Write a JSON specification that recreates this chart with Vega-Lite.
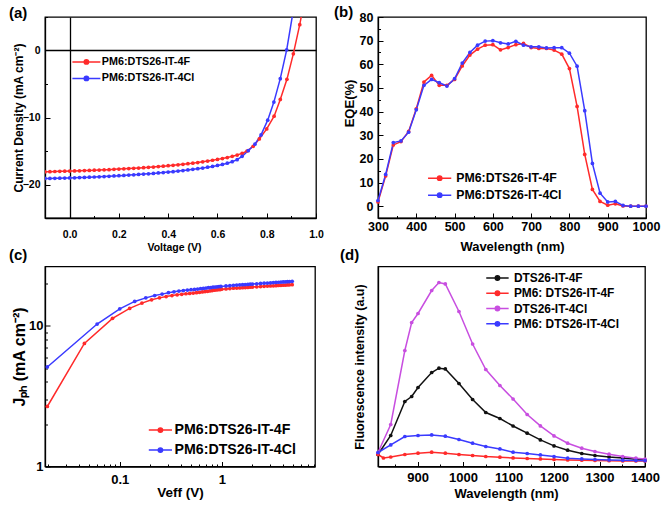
{
  "$schema": "https://vega.github.io/schema/vega-lite/v6.json",
  "background": "white",
  "padding": {"left": 8, "top": 3, "right": 0, "bottom": 0},
  "bounds": "flush",
  "columns": 2,
  "spacing": {"column": 62, "row": 48.5},
  "resolve": {"scale": {"color": "independent", "x": "independent", "y": "independent"}, "legend": {"color": "independent"}, "axis": {"x": "independent", "y": "independent"}},
  "config": {
    "view": {"stroke": "black", "strokeWidth": 1.3},
    "font": "Liberation Sans, sans-serif",
    "axis": {"domainColor": "black", "domainWidth": 1.3, "tickColor": "black", "tickWidth": 1, "labelColor": "black", "labelFontWeight": "bold", "titleColor": "black", "titleFontWeight": "bold", "grid": false, "labelFont": "Liberation Sans, sans-serif", "titleFont": "Liberation Sans, sans-serif", "labelFlush": false, "labelOverlap": false, "titleBaseline": "middle", "titleAlign": "center"},
    "legend": {"orient": "none", "title": null, "padding": 0, "labelColor": "black", "labelFontWeight": "bold", "labelFont": "Liberation Sans, sans-serif", "symbolSize": 64, "symbolStrokeWidth": 1.5, "labelOffset": 10},
    "title": {"anchor": "start", "frame": "group", "font": "Liberation Sans, sans-serif", "fontWeight": "bold", "fontSize": 15, "color": "black", "offset": 0}
  },
  "datasets": {
    "jv": [
      {"s": "PM6:DTS26-IT-4F", "v": -0.1, "j": -18.1}, {"s": "PM6:DTS26-IT-4F", "v": -0.08, "j": -18.08}, {"s": "PM6:DTS26-IT-4F", "v": -0.06, "j": -18.06}, {"s": "PM6:DTS26-IT-4F", "v": -0.04, "j": -18.04}, {"s": "PM6:DTS26-IT-4F", "v": -0.02, "j": -18.02},
      {"s": "PM6:DTS26-IT-4F", "v": 0, "j": -18.0}, {"s": "PM6:DTS26-IT-4F", "v": 0.02, "j": -17.97}, {"s": "PM6:DTS26-IT-4F", "v": 0.04, "j": -17.95}, {"s": "PM6:DTS26-IT-4F", "v": 0.06, "j": -17.92}, {"s": "PM6:DTS26-IT-4F", "v": 0.08, "j": -17.9},
      {"s": "PM6:DTS26-IT-4F", "v": 0.1, "j": -17.87}, {"s": "PM6:DTS26-IT-4F", "v": 0.12, "j": -17.84}, {"s": "PM6:DTS26-IT-4F", "v": 0.14, "j": -17.81}, {"s": "PM6:DTS26-IT-4F", "v": 0.16, "j": -17.78}, {"s": "PM6:DTS26-IT-4F", "v": 0.18, "j": -17.74},
      {"s": "PM6:DTS26-IT-4F", "v": 0.2, "j": -17.7}, {"s": "PM6:DTS26-IT-4F", "v": 0.22, "j": -17.66}, {"s": "PM6:DTS26-IT-4F", "v": 0.24, "j": -17.62}, {"s": "PM6:DTS26-IT-4F", "v": 0.26, "j": -17.58}, {"s": "PM6:DTS26-IT-4F", "v": 0.28, "j": -17.54},
      {"s": "PM6:DTS26-IT-4F", "v": 0.3, "j": -17.49}, {"s": "PM6:DTS26-IT-4F", "v": 0.32, "j": -17.44}, {"s": "PM6:DTS26-IT-4F", "v": 0.34, "j": -17.39}, {"s": "PM6:DTS26-IT-4F", "v": 0.36, "j": -17.33}, {"s": "PM6:DTS26-IT-4F", "v": 0.38, "j": -17.27},
      {"s": "PM6:DTS26-IT-4F", "v": 0.4, "j": -17.2}, {"s": "PM6:DTS26-IT-4F", "v": 0.42, "j": -17.13}, {"s": "PM6:DTS26-IT-4F", "v": 0.44, "j": -17.06}, {"s": "PM6:DTS26-IT-4F", "v": 0.46, "j": -16.98}, {"s": "PM6:DTS26-IT-4F", "v": 0.48, "j": -16.9},
      {"s": "PM6:DTS26-IT-4F", "v": 0.5, "j": -16.81}, {"s": "PM6:DTS26-IT-4F", "v": 0.52, "j": -16.72}, {"s": "PM6:DTS26-IT-4F", "v": 0.54, "j": -16.62}, {"s": "PM6:DTS26-IT-4F", "v": 0.56, "j": -16.5}, {"s": "PM6:DTS26-IT-4F", "v": 0.58, "j": -16.38},
      {"s": "PM6:DTS26-IT-4F", "v": 0.6, "j": -16.25}, {"s": "PM6:DTS26-IT-4F", "v": 0.62, "j": -16.12}, {"s": "PM6:DTS26-IT-4F", "v": 0.64, "j": -15.98}, {"s": "PM6:DTS26-IT-4F", "v": 0.66, "j": -15.8}, {"s": "PM6:DTS26-IT-4F", "v": 0.68, "j": -15.6},
      {"s": "PM6:DTS26-IT-4F", "v": 0.7, "j": -15.35}, {"s": "PM6:DTS26-IT-4F", "v": 0.72, "j": -15.0}, {"s": "PM6:DTS26-IT-4F", "v": 0.745, "j": -14.3}, {"s": "PM6:DTS26-IT-4F", "v": 0.77, "j": -13.2}, {"s": "PM6:DTS26-IT-4F", "v": 0.8, "j": -11.7},
      {"s": "PM6:DTS26-IT-4F", "v": 0.83, "j": -9.8}, {"s": "PM6:DTS26-IT-4F", "v": 0.855, "j": -7.3}, {"s": "PM6:DTS26-IT-4F", "v": 0.882, "j": -4.3}, {"s": "PM6:DTS26-IT-4F", "v": 0.908, "j": -0.5}, {"s": "PM6:DTS26-IT-4F", "v": 0.934, "j": 3.85}, {"s": "PM6:DTS26-IT-4F", "v": 0.946, "j": 6.2},
      {"s": "PM6:DTS26-IT-4Cl", "v": -0.1, "j": -19.1}, {"s": "PM6:DTS26-IT-4Cl", "v": -0.08, "j": -19.09}, {"s": "PM6:DTS26-IT-4Cl", "v": -0.06, "j": -19.08}, {"s": "PM6:DTS26-IT-4Cl", "v": -0.04, "j": -19.06}, {"s": "PM6:DTS26-IT-4Cl", "v": -0.02, "j": -19.04},
      {"s": "PM6:DTS26-IT-4Cl", "v": 0, "j": -19.02}, {"s": "PM6:DTS26-IT-4Cl", "v": 0.02, "j": -19.0}, {"s": "PM6:DTS26-IT-4Cl", "v": 0.04, "j": -18.97}, {"s": "PM6:DTS26-IT-4Cl", "v": 0.06, "j": -18.94}, {"s": "PM6:DTS26-IT-4Cl", "v": 0.08, "j": -18.91},
      {"s": "PM6:DTS26-IT-4Cl", "v": 0.1, "j": -18.88}, {"s": "PM6:DTS26-IT-4Cl", "v": 0.12, "j": -18.85}, {"s": "PM6:DTS26-IT-4Cl", "v": 0.14, "j": -18.81}, {"s": "PM6:DTS26-IT-4Cl", "v": 0.16, "j": -18.77}, {"s": "PM6:DTS26-IT-4Cl", "v": 0.18, "j": -18.73},
      {"s": "PM6:DTS26-IT-4Cl", "v": 0.2, "j": -18.69}, {"s": "PM6:DTS26-IT-4Cl", "v": 0.22, "j": -18.65}, {"s": "PM6:DTS26-IT-4Cl", "v": 0.24, "j": -18.6}, {"s": "PM6:DTS26-IT-4Cl", "v": 0.26, "j": -18.55}, {"s": "PM6:DTS26-IT-4Cl", "v": 0.28, "j": -18.5},
      {"s": "PM6:DTS26-IT-4Cl", "v": 0.3, "j": -18.45}, {"s": "PM6:DTS26-IT-4Cl", "v": 0.32, "j": -18.4}, {"s": "PM6:DTS26-IT-4Cl", "v": 0.34, "j": -18.34}, {"s": "PM6:DTS26-IT-4Cl", "v": 0.36, "j": -18.28}, {"s": "PM6:DTS26-IT-4Cl", "v": 0.38, "j": -18.22},
      {"s": "PM6:DTS26-IT-4Cl", "v": 0.4, "j": -18.15}, {"s": "PM6:DTS26-IT-4Cl", "v": 0.42, "j": -18.08}, {"s": "PM6:DTS26-IT-4Cl", "v": 0.44, "j": -18.0}, {"s": "PM6:DTS26-IT-4Cl", "v": 0.46, "j": -17.92}, {"s": "PM6:DTS26-IT-4Cl", "v": 0.48, "j": -17.83},
      {"s": "PM6:DTS26-IT-4Cl", "v": 0.5, "j": -17.74}, {"s": "PM6:DTS26-IT-4Cl", "v": 0.52, "j": -17.64}, {"s": "PM6:DTS26-IT-4Cl", "v": 0.54, "j": -17.54}, {"s": "PM6:DTS26-IT-4Cl", "v": 0.56, "j": -17.42}, {"s": "PM6:DTS26-IT-4Cl", "v": 0.58, "j": -17.3},
      {"s": "PM6:DTS26-IT-4Cl", "v": 0.6, "j": -17.16}, {"s": "PM6:DTS26-IT-4Cl", "v": 0.62, "j": -17.0}, {"s": "PM6:DTS26-IT-4Cl", "v": 0.64, "j": -16.82}, {"s": "PM6:DTS26-IT-4Cl", "v": 0.66, "j": -16.6}, {"s": "PM6:DTS26-IT-4Cl", "v": 0.68, "j": -16.3},
      {"s": "PM6:DTS26-IT-4Cl", "v": 0.7, "j": -15.8}, {"s": "PM6:DTS26-IT-4Cl", "v": 0.725, "j": -14.96}, {"s": "PM6:DTS26-IT-4Cl", "v": 0.752, "j": -13.98}, {"s": "PM6:DTS26-IT-4Cl", "v": 0.777, "j": -12.6}, {"s": "PM6:DTS26-IT-4Cl", "v": 0.804, "j": -10.4},
      {"s": "PM6:DTS26-IT-4Cl", "v": 0.829, "j": -7.7}, {"s": "PM6:DTS26-IT-4Cl", "v": 0.855, "j": -4.2}, {"s": "PM6:DTS26-IT-4Cl", "v": 0.881, "j": 0.1}, {"s": "PM6:DTS26-IT-4Cl", "v": 0.907, "j": 5.8}
    ],
    "eqe": [
      {"s": "PM6:DTS26-IT-4F", "w": 300, "e": 1.8}, {"s": "PM6:DTS26-IT-4F", "w": 320, "e": 12.8}, {"s": "PM6:DTS26-IT-4F", "w": 340, "e": 25.9}, {"s": "PM6:DTS26-IT-4F", "w": 360, "e": 27.3}, {"s": "PM6:DTS26-IT-4F", "w": 380, "e": 31.6},
      {"s": "PM6:DTS26-IT-4F", "w": 400, "e": 41.2}, {"s": "PM6:DTS26-IT-4F", "w": 420, "e": 52.5}, {"s": "PM6:DTS26-IT-4F", "w": 440, "e": 55.3}, {"s": "PM6:DTS26-IT-4F", "w": 460, "e": 51.1}, {"s": "PM6:DTS26-IT-4F", "w": 480, "e": 51.1},
      {"s": "PM6:DTS26-IT-4F", "w": 500, "e": 53.6}, {"s": "PM6:DTS26-IT-4F", "w": 520, "e": 59.3}, {"s": "PM6:DTS26-IT-4F", "w": 540, "e": 63.9}, {"s": "PM6:DTS26-IT-4F", "w": 560, "e": 66.4}, {"s": "PM6:DTS26-IT-4F", "w": 580, "e": 68.1},
      {"s": "PM6:DTS26-IT-4F", "w": 600, "e": 68.3}, {"s": "PM6:DTS26-IT-4F", "w": 620, "e": 66.1}, {"s": "PM6:DTS26-IT-4F", "w": 640, "e": 67.1}, {"s": "PM6:DTS26-IT-4F", "w": 660, "e": 68.3}, {"s": "PM6:DTS26-IT-4F", "w": 680, "e": 68.8},
      {"s": "PM6:DTS26-IT-4F", "w": 700, "e": 67.1}, {"s": "PM6:DTS26-IT-4F", "w": 720, "e": 66.7}, {"s": "PM6:DTS26-IT-4F", "w": 740, "e": 66.7}, {"s": "PM6:DTS26-IT-4F", "w": 760, "e": 66.0}, {"s": "PM6:DTS26-IT-4F", "w": 780, "e": 64.3},
      {"s": "PM6:DTS26-IT-4F", "w": 800, "e": 58.2}, {"s": "PM6:DTS26-IT-4F", "w": 820, "e": 42.2}, {"s": "PM6:DTS26-IT-4F", "w": 840, "e": 21.9}, {"s": "PM6:DTS26-IT-4F", "w": 860, "e": 7.1}, {"s": "PM6:DTS26-IT-4F", "w": 880, "e": 2.0},
      {"s": "PM6:DTS26-IT-4F", "w": 900, "e": 0.4}, {"s": "PM6:DTS26-IT-4F", "w": 920, "e": 1.0}, {"s": "PM6:DTS26-IT-4F", "w": 940, "e": 0.1}, {"s": "PM6:DTS26-IT-4F", "w": 960, "e": 0}, {"s": "PM6:DTS26-IT-4F", "w": 980, "e": 0}, {"s": "PM6:DTS26-IT-4F", "w": 1000, "e": 0},
      {"s": "PM6:DTS26-IT-4Cl", "w": 300, "e": 2.4}, {"s": "PM6:DTS26-IT-4Cl", "w": 320, "e": 13.4}, {"s": "PM6:DTS26-IT-4Cl", "w": 340, "e": 26.9}, {"s": "PM6:DTS26-IT-4Cl", "w": 360, "e": 27.6}, {"s": "PM6:DTS26-IT-4Cl", "w": 380, "e": 31.3},
      {"s": "PM6:DTS26-IT-4Cl", "w": 400, "e": 40.8}, {"s": "PM6:DTS26-IT-4Cl", "w": 420, "e": 51.1}, {"s": "PM6:DTS26-IT-4Cl", "w": 440, "e": 53.6}, {"s": "PM6:DTS26-IT-4Cl", "w": 460, "e": 52.2}, {"s": "PM6:DTS26-IT-4Cl", "w": 480, "e": 50.8},
      {"s": "PM6:DTS26-IT-4Cl", "w": 500, "e": 53.9}, {"s": "PM6:DTS26-IT-4Cl", "w": 520, "e": 60.5}, {"s": "PM6:DTS26-IT-4Cl", "w": 540, "e": 65.0}, {"s": "PM6:DTS26-IT-4Cl", "w": 560, "e": 68.1}, {"s": "PM6:DTS26-IT-4Cl", "w": 580, "e": 69.8},
      {"s": "PM6:DTS26-IT-4Cl", "w": 600, "e": 70.0}, {"s": "PM6:DTS26-IT-4Cl", "w": 620, "e": 69.1}, {"s": "PM6:DTS26-IT-4Cl", "w": 640, "e": 68.6}, {"s": "PM6:DTS26-IT-4Cl", "w": 660, "e": 69.7}, {"s": "PM6:DTS26-IT-4Cl", "w": 680, "e": 68.1},
      {"s": "PM6:DTS26-IT-4Cl", "w": 700, "e": 67.4}, {"s": "PM6:DTS26-IT-4Cl", "w": 720, "e": 67.4}, {"s": "PM6:DTS26-IT-4Cl", "w": 740, "e": 66.9}, {"s": "PM6:DTS26-IT-4Cl", "w": 760, "e": 67.0}, {"s": "PM6:DTS26-IT-4Cl", "w": 780, "e": 67.0},
      {"s": "PM6:DTS26-IT-4Cl", "w": 800, "e": 64.7}, {"s": "PM6:DTS26-IT-4Cl", "w": 820, "e": 59.2}, {"s": "PM6:DTS26-IT-4Cl", "w": 840, "e": 40.4}, {"s": "PM6:DTS26-IT-4Cl", "w": 860, "e": 18.1}, {"s": "PM6:DTS26-IT-4Cl", "w": 880, "e": 5.5},
      {"s": "PM6:DTS26-IT-4Cl", "w": 900, "e": 1.8}, {"s": "PM6:DTS26-IT-4Cl", "w": 920, "e": 2.0}, {"s": "PM6:DTS26-IT-4Cl", "w": 940, "e": 0.3}, {"s": "PM6:DTS26-IT-4Cl", "w": 960, "e": 0}, {"s": "PM6:DTS26-IT-4Cl", "w": 980, "e": 0}, {"s": "PM6:DTS26-IT-4Cl", "w": 1000, "e": 0}
    ],
    "jph": [
      {"s": "PM6:DTS26-IT-4F", "x": 0.0195, "y": 2.67}, {"s": "PM6:DTS26-IT-4F", "x": 0.045, "y": 7.5}, {"s": "PM6:DTS26-IT-4F", "x": 0.085, "y": 11.3}, {"s": "PM6:DTS26-IT-4F", "x": 0.125, "y": 13.3}, {"s": "PM6:DTS26-IT-4F", "x": 0.165, "y": 14.5},
      {"s": "PM6:DTS26-IT-4F", "x": 0.205, "y": 15.3}, {"s": "PM6:DTS26-IT-4F", "x": 0.245, "y": 15.8}, {"s": "PM6:DTS26-IT-4F", "x": 0.285, "y": 16.15}, {"s": "PM6:DTS26-IT-4F", "x": 0.325, "y": 16.4}, {"s": "PM6:DTS26-IT-4F", "x": 0.365, "y": 16.6},
      {"s": "PM6:DTS26-IT-4F", "x": 0.405, "y": 16.75}, {"s": "PM6:DTS26-IT-4F", "x": 0.445, "y": 16.9}, {"s": "PM6:DTS26-IT-4F", "x": 0.485, "y": 17.0}, {"s": "PM6:DTS26-IT-4F", "x": 0.525, "y": 17.1}, {"s": "PM6:DTS26-IT-4F", "x": 0.565, "y": 17.2},
      {"s": "PM6:DTS26-IT-4F", "x": 0.605, "y": 17.3}, {"s": "PM6:DTS26-IT-4F", "x": 0.645, "y": 17.4}, {"s": "PM6:DTS26-IT-4F", "x": 0.685, "y": 17.5}, {"s": "PM6:DTS26-IT-4F", "x": 0.725, "y": 17.6}, {"s": "PM6:DTS26-IT-4F", "x": 0.765, "y": 17.7},
      {"s": "PM6:DTS26-IT-4F", "x": 0.805, "y": 17.8}, {"s": "PM6:DTS26-IT-4F", "x": 0.845, "y": 17.9}, {"s": "PM6:DTS26-IT-4F", "x": 0.885, "y": 18.0}, {"s": "PM6:DTS26-IT-4F", "x": 0.925, "y": 18.05}, {"s": "PM6:DTS26-IT-4F", "x": 0.965, "y": 18.1},
      {"s": "PM6:DTS26-IT-4F", "x": 1.0, "y": 18.2}, {"s": "PM6:DTS26-IT-4F", "x": 1.1, "y": 18.3}, {"s": "PM6:DTS26-IT-4F", "x": 1.2, "y": 18.4}, {"s": "PM6:DTS26-IT-4F", "x": 1.3, "y": 18.5}, {"s": "PM6:DTS26-IT-4F", "x": 1.4, "y": 18.55},
      {"s": "PM6:DTS26-IT-4F", "x": 1.5, "y": 18.6}, {"s": "PM6:DTS26-IT-4F", "x": 1.6, "y": 18.65}, {"s": "PM6:DTS26-IT-4F", "x": 1.7, "y": 18.7}, {"s": "PM6:DTS26-IT-4F", "x": 1.8, "y": 18.75}, {"s": "PM6:DTS26-IT-4F", "x": 1.9, "y": 18.8},
      {"s": "PM6:DTS26-IT-4F", "x": 2.0, "y": 18.85}, {"s": "PM6:DTS26-IT-4F", "x": 2.2, "y": 18.95}, {"s": "PM6:DTS26-IT-4F", "x": 2.4, "y": 19.0}, {"s": "PM6:DTS26-IT-4F", "x": 2.6, "y": 19.1}, {"s": "PM6:DTS26-IT-4F", "x": 2.8, "y": 19.15},
      {"s": "PM6:DTS26-IT-4F", "x": 3.0, "y": 19.2}, {"s": "PM6:DTS26-IT-4F", "x": 3.2, "y": 19.25}, {"s": "PM6:DTS26-IT-4F", "x": 3.4, "y": 19.3}, {"s": "PM6:DTS26-IT-4F", "x": 3.6, "y": 19.35}, {"s": "PM6:DTS26-IT-4F", "x": 3.8, "y": 19.4},
      {"s": "PM6:DTS26-IT-4F", "x": 4.0, "y": 19.45}, {"s": "PM6:DTS26-IT-4F", "x": 4.2, "y": 19.5}, {"s": "PM6:DTS26-IT-4F", "x": 4.4, "y": 19.52}, {"s": "PM6:DTS26-IT-4F", "x": 4.6, "y": 19.55}, {"s": "PM6:DTS26-IT-4F", "x": 4.9, "y": 19.6},
      {"s": "PM6:DTS26-IT-4Cl", "x": 0.0195, "y": 5.1}, {"s": "PM6:DTS26-IT-4Cl", "x": 0.06, "y": 10.3}, {"s": "PM6:DTS26-IT-4Cl", "x": 0.1, "y": 13.2}, {"s": "PM6:DTS26-IT-4Cl", "x": 0.14, "y": 14.9}, {"s": "PM6:DTS26-IT-4Cl", "x": 0.18, "y": 15.8},
      {"s": "PM6:DTS26-IT-4Cl", "x": 0.22, "y": 16.4}, {"s": "PM6:DTS26-IT-4Cl", "x": 0.26, "y": 16.8}, {"s": "PM6:DTS26-IT-4Cl", "x": 0.3, "y": 17.2}, {"s": "PM6:DTS26-IT-4Cl", "x": 0.34, "y": 17.45}, {"s": "PM6:DTS26-IT-4Cl", "x": 0.38, "y": 17.65},
      {"s": "PM6:DTS26-IT-4Cl", "x": 0.42, "y": 17.8}, {"s": "PM6:DTS26-IT-4Cl", "x": 0.46, "y": 17.95}, {"s": "PM6:DTS26-IT-4Cl", "x": 0.5, "y": 18.05}, {"s": "PM6:DTS26-IT-4Cl", "x": 0.54, "y": 18.15}, {"s": "PM6:DTS26-IT-4Cl", "x": 0.58, "y": 18.25},
      {"s": "PM6:DTS26-IT-4Cl", "x": 0.62, "y": 18.35}, {"s": "PM6:DTS26-IT-4Cl", "x": 0.66, "y": 18.45}, {"s": "PM6:DTS26-IT-4Cl", "x": 0.7, "y": 18.55}, {"s": "PM6:DTS26-IT-4Cl", "x": 0.74, "y": 18.65}, {"s": "PM6:DTS26-IT-4Cl", "x": 0.78, "y": 18.72},
      {"s": "PM6:DTS26-IT-4Cl", "x": 0.82, "y": 18.8}, {"s": "PM6:DTS26-IT-4Cl", "x": 0.86, "y": 18.87}, {"s": "PM6:DTS26-IT-4Cl", "x": 0.9, "y": 18.93}, {"s": "PM6:DTS26-IT-4Cl", "x": 0.94, "y": 19.0}, {"s": "PM6:DTS26-IT-4Cl", "x": 0.98, "y": 19.05},
      {"s": "PM6:DTS26-IT-4Cl", "x": 1.1, "y": 19.2}, {"s": "PM6:DTS26-IT-4Cl", "x": 1.2, "y": 19.3}, {"s": "PM6:DTS26-IT-4Cl", "x": 1.3, "y": 19.4}, {"s": "PM6:DTS26-IT-4Cl", "x": 1.4, "y": 19.5}, {"s": "PM6:DTS26-IT-4Cl", "x": 1.5, "y": 19.55},
      {"s": "PM6:DTS26-IT-4Cl", "x": 1.6, "y": 19.6}, {"s": "PM6:DTS26-IT-4Cl", "x": 1.7, "y": 19.65}, {"s": "PM6:DTS26-IT-4Cl", "x": 1.8, "y": 19.7}, {"s": "PM6:DTS26-IT-4Cl", "x": 1.9, "y": 19.75}, {"s": "PM6:DTS26-IT-4Cl", "x": 2.0, "y": 19.8},
      {"s": "PM6:DTS26-IT-4Cl", "x": 2.2, "y": 19.9}, {"s": "PM6:DTS26-IT-4Cl", "x": 2.4, "y": 20.0}, {"s": "PM6:DTS26-IT-4Cl", "x": 2.6, "y": 20.1}, {"s": "PM6:DTS26-IT-4Cl", "x": 2.8, "y": 20.15}, {"s": "PM6:DTS26-IT-4Cl", "x": 3.0, "y": 20.2},
      {"s": "PM6:DTS26-IT-4Cl", "x": 3.2, "y": 20.3}, {"s": "PM6:DTS26-IT-4Cl", "x": 3.4, "y": 20.35}, {"s": "PM6:DTS26-IT-4Cl", "x": 3.6, "y": 20.4}, {"s": "PM6:DTS26-IT-4Cl", "x": 3.8, "y": 20.45}, {"s": "PM6:DTS26-IT-4Cl", "x": 4.0, "y": 20.5},
      {"s": "PM6:DTS26-IT-4Cl", "x": 4.2, "y": 20.55}, {"s": "PM6:DTS26-IT-4Cl", "x": 4.4, "y": 20.6}, {"s": "PM6:DTS26-IT-4Cl", "x": 4.6, "y": 20.65}, {"s": "PM6:DTS26-IT-4Cl", "x": 4.9, "y": 20.7}
    ],
    "pl": [
      {"s": "DTS26-IT-4F", "w": 813, "i": 12}, {"s": "DTS26-IT-4F", "w": 841, "i": 31}, {"s": "DTS26-IT-4F", "w": 872, "i": 65}, {"s": "DTS26-IT-4F", "w": 887, "i": 70}, {"s": "DTS26-IT-4F", "w": 901, "i": 79},
      {"s": "DTS26-IT-4F", "w": 931, "i": 94}, {"s": "DTS26-IT-4F", "w": 947, "i": 98.3}, {"s": "DTS26-IT-4F", "w": 961, "i": 97.6}, {"s": "DTS26-IT-4F", "w": 991, "i": 83}, {"s": "DTS26-IT-4F", "w": 1021, "i": 67},
      {"s": "DTS26-IT-4F", "w": 1050, "i": 54}, {"s": "DTS26-IT-4F", "w": 1081, "i": 48}, {"s": "DTS26-IT-4F", "w": 1110, "i": 40.5}, {"s": "DTS26-IT-4F", "w": 1141, "i": 33.3}, {"s": "DTS26-IT-4F", "w": 1170, "i": 26.6},
      {"s": "DTS26-IT-4F", "w": 1200, "i": 20.6}, {"s": "DTS26-IT-4F", "w": 1230, "i": 16.3}, {"s": "DTS26-IT-4F", "w": 1261, "i": 13}, {"s": "DTS26-IT-4F", "w": 1290, "i": 11}, {"s": "DTS26-IT-4F", "w": 1321, "i": 9.6},
      {"s": "DTS26-IT-4F", "w": 1351, "i": 8.6}, {"s": "DTS26-IT-4F", "w": 1380, "i": 7.3}, {"s": "DTS26-IT-4F", "w": 1400, "i": 6.5},
      {"s": "PM6: DTS26-IT-4F", "w": 813, "i": 12}, {"s": "PM6: DTS26-IT-4F", "w": 825, "i": 8.5}, {"s": "PM6: DTS26-IT-4F", "w": 841, "i": 9.5}, {"s": "PM6: DTS26-IT-4F", "w": 872, "i": 12}, {"s": "PM6: DTS26-IT-4F", "w": 901, "i": 13.3},
      {"s": "PM6: DTS26-IT-4F", "w": 931, "i": 14.3}, {"s": "PM6: DTS26-IT-4F", "w": 961, "i": 13.3}, {"s": "PM6: DTS26-IT-4F", "w": 991, "i": 12}, {"s": "PM6: DTS26-IT-4F", "w": 1021, "i": 11}, {"s": "PM6: DTS26-IT-4F", "w": 1050, "i": 10},
      {"s": "PM6: DTS26-IT-4F", "w": 1081, "i": 9.3}, {"s": "PM6: DTS26-IT-4F", "w": 1110, "i": 8.6}, {"s": "PM6: DTS26-IT-4F", "w": 1141, "i": 8}, {"s": "PM6: DTS26-IT-4F", "w": 1170, "i": 7.6}, {"s": "PM6: DTS26-IT-4F", "w": 1200, "i": 7},
      {"s": "PM6: DTS26-IT-4F", "w": 1230, "i": 6.6}, {"s": "PM6: DTS26-IT-4F", "w": 1261, "i": 6.3}, {"s": "PM6: DTS26-IT-4F", "w": 1290, "i": 6}, {"s": "PM6: DTS26-IT-4F", "w": 1321, "i": 5.8}, {"s": "PM6: DTS26-IT-4F", "w": 1351, "i": 5.6},
      {"s": "PM6: DTS26-IT-4F", "w": 1380, "i": 5.5}, {"s": "PM6: DTS26-IT-4F", "w": 1400, "i": 5.4},
      {"s": "DTS26-IT-4Cl", "w": 813, "i": 14}, {"s": "DTS26-IT-4Cl", "w": 841, "i": 42}, {"s": "DTS26-IT-4Cl", "w": 872, "i": 116}, {"s": "DTS26-IT-4Cl", "w": 887, "i": 144}, {"s": "DTS26-IT-4Cl", "w": 901, "i": 153},
      {"s": "DTS26-IT-4Cl", "w": 931, "i": 176}, {"s": "DTS26-IT-4Cl", "w": 947, "i": 184}, {"s": "DTS26-IT-4Cl", "w": 961, "i": 182.6}, {"s": "DTS26-IT-4Cl", "w": 991, "i": 155}, {"s": "DTS26-IT-4Cl", "w": 1021, "i": 122.5},
      {"s": "DTS26-IT-4Cl", "w": 1050, "i": 97}, {"s": "DTS26-IT-4Cl", "w": 1081, "i": 81}, {"s": "DTS26-IT-4Cl", "w": 1110, "i": 67.5}, {"s": "DTS26-IT-4Cl", "w": 1141, "i": 52}, {"s": "DTS26-IT-4Cl", "w": 1170, "i": 40.6},
      {"s": "DTS26-IT-4Cl", "w": 1200, "i": 30.6}, {"s": "DTS26-IT-4Cl", "w": 1230, "i": 23.3}, {"s": "DTS26-IT-4Cl", "w": 1261, "i": 18.3}, {"s": "DTS26-IT-4Cl", "w": 1290, "i": 15}, {"s": "DTS26-IT-4Cl", "w": 1321, "i": 12.3},
      {"s": "DTS26-IT-4Cl", "w": 1351, "i": 10}, {"s": "DTS26-IT-4Cl", "w": 1380, "i": 8.3}, {"s": "DTS26-IT-4Cl", "w": 1400, "i": 7.5},
      {"s": "PM6: DTS26-IT-4Cl", "w": 813, "i": 14}, {"s": "PM6: DTS26-IT-4Cl", "w": 841, "i": 21.6}, {"s": "PM6: DTS26-IT-4Cl", "w": 872, "i": 30}, {"s": "PM6: DTS26-IT-4Cl", "w": 901, "i": 31}, {"s": "PM6: DTS26-IT-4Cl", "w": 931, "i": 31.6},
      {"s": "PM6: DTS26-IT-4Cl", "w": 961, "i": 30.3}, {"s": "PM6: DTS26-IT-4Cl", "w": 991, "i": 27}, {"s": "PM6: DTS26-IT-4Cl", "w": 1021, "i": 23.3}, {"s": "PM6: DTS26-IT-4Cl", "w": 1050, "i": 20}, {"s": "PM6: DTS26-IT-4Cl", "w": 1081, "i": 17.6},
      {"s": "PM6: DTS26-IT-4Cl", "w": 1110, "i": 14.3}, {"s": "PM6: DTS26-IT-4Cl", "w": 1141, "i": 13}, {"s": "PM6: DTS26-IT-4Cl", "w": 1170, "i": 11.6}, {"s": "PM6: DTS26-IT-4Cl", "w": 1200, "i": 10}, {"s": "PM6: DTS26-IT-4Cl", "w": 1230, "i": 8.3},
      {"s": "PM6: DTS26-IT-4Cl", "w": 1261, "i": 7.6}, {"s": "PM6: DTS26-IT-4Cl", "w": 1290, "i": 7}, {"s": "PM6: DTS26-IT-4Cl", "w": 1321, "i": 6.6}, {"s": "PM6: DTS26-IT-4Cl", "w": 1351, "i": 6.3}, {"s": "PM6: DTS26-IT-4Cl", "w": 1380, "i": 6}, {"s": "PM6: DTS26-IT-4Cl", "w": 1400, "i": 5.8}
    ]
  },
  "concat": [
    {
      "width": 271, "height": 201,
      "title": {"text": "(a)", "dx": -36, "offset": -8.5},
      "data": {"name": "jv"},
      "mark": {"type": "line", "clip": true, "strokeWidth": 1.5, "point": {"filled": true, "size": 14, "clip": true}},
      "encoding": {
        "x": {"field": "v", "type": "quantitative", "scale": {"domain": [-0.1, 1.0], "nice": false, "zero": false},
          "axis": {"title": "Voltage (V)", "values": [-0.1, 0, 0.1, 0.2, 0.3, 0.4, 0.5, 0.6, 0.7, 0.8, 0.9, 1.0], "format": ".1f",
            "labelExpr": "abs(round(datum.value*10)) % 2 == 1 ? '' : datum.label",
            "tickSize": {"condition": {"test": "abs(round(datum.value*10)) % 2 == 1", "value": -2.5}, "value": -5},
            "grid": true, "gridColor": "black", "gridWidth": 1.3,
            "gridOpacity": {"condition": {"test": "datum.value == 0", "value": 1}, "value": 0},
            "labelPadding": 16.5, "labelFontSize": 10.5, "titleFontSize": 10.5, "titleX": 129, "titleY": 29.7}},
        "y": {"field": "j", "type": "quantitative", "scale": {"domain": [-25, 5], "nice": false, "zero": false},
          "axis": {"title": "Current Density (mA cm⁻²)", "values": [-25, -20, -15, -10, -5, 0, 5],
            "labelExpr": "datum.value % 10 == 0 ? datum.label : ''",
            "tickSize": {"condition": {"test": "datum.value % 10 != 0", "value": -2.5}, "value": -5},
            "grid": true, "gridColor": "black", "gridWidth": 1.3,
            "gridOpacity": {"condition": {"test": "datum.value == 0", "value": 1}, "value": 0},
            "labelPadding": 10, "labelFontSize": 10.5, "titleFontSize": 12, "titleX": -27}},
        "color": {"field": "s", "type": "nominal", "sort": null,
          "scale": {"domain": ["PM6:DTS26-IT-4F", "PM6:DTS26-IT-4Cl"], "range": ["#ff2a2a", "#3a3aff"]},
          "legend": {"legendX": 36, "legendY": 39.5, "labelFontSize": 10.8, "rowPadding": 4.5, "labelOffset": 10,
            "symbolType": "M-3.5,0H3.5M0.55,0A0.55,0.55,0,1,1,-0.55,0A0.55,0.55,0,1,1,0.55,0Z",
            "encode": {"symbols": {"update": {"fill": {"signal": "datum.value == 'PM6:DTS26-IT-4F' ? '#ff2a2a' : '#3a3aff'"}, "stroke": {"signal": "datum.value == 'PM6:DTS26-IT-4F' ? '#ff2a2a' : '#3a3aff'"}}}}}}
      }
    },
    {
      "width": 268, "height": 201,
      "title": {"text": "(b)", "dx": -44, "offset": -8.5},
      "data": {"name": "eqe"},
      "mark": {"type": "line", "strokeWidth": 1.5, "point": {"filled": true, "size": 14}},
      "encoding": {
        "x": {"field": "w", "type": "quantitative", "scale": {"domain": [300, 1000], "nice": false, "zero": false},
          "axis": {"title": "Wavelength (nm)", "format": "d", "values": [300, 350, 400, 450, 500, 550, 600, 650, 700, 750, 800, 850, 900, 950, 1000],
            "labelExpr": "datum.value % 100 == 0 ? datum.label : ''",
            "tickSize": {"condition": {"test": "datum.value % 100 != 0", "value": -2.5}, "value": -5},
            "labelPadding": 7.5, "labelFontSize": 12.5, "titleFontSize": 13, "titleY": 28}},
        "y": {"field": "e", "type": "quantitative", "scale": {"domain": [-5, 80], "nice": false, "zero": false},
          "axis": {"title": "EQE(%)", "values": [0, 5, 10, 15, 20, 25, 30, 35, 40, 45, 50, 55, 60, 65, 70, 75, 80],
            "labelExpr": "datum.value % 10 == 0 ? datum.label : ''",
            "tickSize": {"condition": {"test": "datum.value % 10 != 0", "value": -2.5}, "value": -5},
            "labelPadding": 10, "labelFontSize": 12.5, "titleFontSize": 13, "titleX": -29, "titleY": 86}},
        "color": {"field": "s", "type": "nominal", "sort": null,
          "scale": {"domain": ["PM6:DTS26-IT-4F", "PM6:DTS26-IT-4Cl"], "range": ["#ff2a2a", "#3a3aff"]},
          "legend": {"legendX": 55.5, "legendY": 155, "labelFontSize": 12.3, "rowPadding": 4, "labelOffset": 10.5,
            "symbolType": "M-2.9,0H2.9M0.55,0A0.55,0.55,0,1,1,-0.55,0A0.55,0.55,0,1,1,0.55,0Z",
            "encode": {"symbols": {"update": {"fill": {"signal": "datum.value == 'PM6:DTS26-IT-4F' ? '#ff2a2a' : '#3a3aff'"}, "stroke": {"signal": "datum.value == 'PM6:DTS26-IT-4F' ? '#ff2a2a' : '#3a3aff'"}}}}}}
      }
    },
    {
      "width": 270, "height": 200,
      "title": {"text": "(c)", "dx": -36, "offset": 4},
      "data": {"name": "jph"},
      "mark": {"type": "line", "clip": true, "strokeWidth": 1.5, "point": {"filled": true, "size": 14, "clip": true}},
      "encoding": {
        "x": {"field": "x", "type": "quantitative", "scale": {"type": "log", "domain": [0.0185, 8.2], "nice": false},
          "axis": {"title": "Veff (V)", "values": [0.02, 0.03, 0.04, 0.05, 0.06, 0.07, 0.08, 0.09, 0.1, 0.2, 0.3, 0.4, 0.5, 0.6, 0.7, 0.8, 0.9, 1, 2, 3, 4, 5, 6, 7, 8],
            "format": "~g",
            "labelExpr": "datum.value == 0.1 || datum.value == 1 ? datum.label : ''",
            "tickSize": {"condition": {"test": "datum.value != 0.1 && datum.value != 1", "value": -2.5}, "value": -5},
            "labelPadding": 12, "labelFontSize": 13, "titleFontSize": 13.5, "titleY": 26}},
        "y": {"field": "y", "type": "quantitative", "scale": {"type": "log", "domain": [1, 26.4], "nice": false},
          "axis": {"title": "Jₚₕ (mA cm⁻²)", "values": [1, 2, 3, 4, 5, 6, 7, 8, 9, 10, 20],
            "format": "~g",
            "labelExpr": "datum.value == 1 || datum.value == 10 ? datum.label : ''",
            "tickSize": {"condition": {"test": "datum.value != 1 && datum.value != 10", "value": -2.5}, "value": -5},
            "labelPadding": 7, "labelFontSize": 13, "titleFontSize": 16, "titleX": -26, "titleY": 90}},
        "color": {"field": "s", "type": "nominal", "sort": null,
          "scale": {"domain": ["PM6:DTS26-IT-4F", "PM6:DTS26-IT-4Cl"], "range": ["#ff2a2a", "#3a3aff"]},
          "legend": {"legendX": 108.3, "legendY": 156.5, "labelFontSize": 14.2, "rowPadding": 5, "labelOffset": 7,
            "symbolType": "M-2.9,0H2.9M0.55,0A0.55,0.55,0,1,1,-0.55,0A0.55,0.55,0,1,1,0.55,0Z",
            "encode": {"symbols": {"update": {"fill": {"signal": "datum.value == 'PM6:DTS26-IT-4F' ? '#ff2a2a' : '#3a3aff'"}, "stroke": {"signal": "datum.value == 'PM6:DTS26-IT-4F' ? '#ff2a2a' : '#3a3aff'"}}}}}}
      }
    },
    {
      "width": 267, "height": 200,
      "title": {"text": "(d)", "dx": -38, "offset": 4},
      "data": {"name": "pl"},
      "mark": {"type": "line", "strokeWidth": 1.5, "point": {"filled": true, "size": 14}},
      "encoding": {
        "x": {"field": "w", "type": "quantitative", "scale": {"domain": [813, 1400], "nice": false, "zero": false},
          "axis": {"title": "Wavelength (nm)", "format": "d", "values": [850, 900, 950, 1000, 1050, 1100, 1150, 1200, 1250, 1300, 1350, 1400],
            "labelExpr": "datum.value % 100 == 0 ? datum.label : ''",
            "tickSize": {"condition": {"test": "datum.value % 100 != 0", "value": -2.5}, "value": -5},
            "labelPadding": 10, "labelFontSize": 13, "titleFontSize": 13, "titleX": 128, "titleY": 27}},
        "y": {"field": "i", "type": "quantitative", "scale": {"domain": [0, 200], "nice": false, "zero": false},
          "axis": {"title": "Fluorescence intensity (a.u)", "labels": false, "ticks": false, "titleFontSize": 12.5, "titleX": -19}},
        "color": {"field": "s", "type": "nominal", "sort": null,
          "scale": {"domain": ["DTS26-IT-4F", "PM6: DTS26-IT-4F", "DTS26-IT-4Cl", "PM6: DTS26-IT-4Cl"], "range": ["#111111", "#ff2a2a", "#c84ee0", "#3a3aff"]},
          "legend": {"legendX": 113.5, "legendY": 5.5, "labelFontSize": 11.9, "rowPadding": 2.3, "labelOffset": 10.5,
            "symbolType": "M-2.8,0H2.8M0.55,0A0.55,0.55,0,1,1,-0.55,0A0.55,0.55,0,1,1,0.55,0Z",
            "encode": {"symbols": {"update": {"fill": {"signal": "datum.value == 'DTS26-IT-4F' ? '#111111' : datum.value == 'PM6: DTS26-IT-4F' ? '#ff2a2a' : datum.value == 'DTS26-IT-4Cl' ? '#c84ee0' : '#3a3aff'"}, "stroke": {"signal": "datum.value == 'DTS26-IT-4F' ? '#111111' : datum.value == 'PM6: DTS26-IT-4F' ? '#ff2a2a' : datum.value == 'DTS26-IT-4Cl' ? '#c84ee0' : '#3a3aff'"}}}}}}
      }
    }
  ]
}
